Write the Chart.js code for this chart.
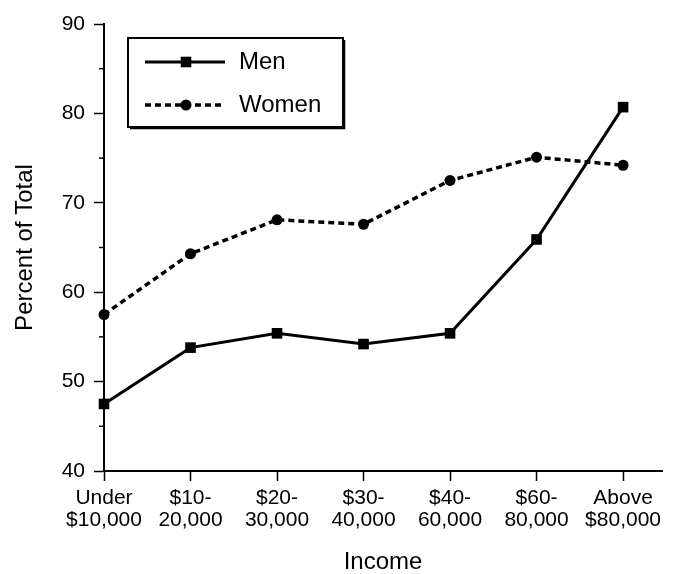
<!DOCTYPE html>
<html>
<head>
<meta charset="utf-8">
<script src="https://cdn.jsdelivr.net/npm/chart.js@4/dist/chart.umd.min.js"></script>
<style>
  html, body { margin: 0; padding: 0; background: #fff; }
</style>
</head>
<body>
<canvas id="chart" width="673" height="574"></canvas>
<script>
const categories = [
  ['Under', '$10,000'], ['$10-', '20,000'], ['$20-', '30,000'], ['$30-', '40,000'],
  ['$40-', '60,000'], ['$60-', '80,000'], ['Above', '$80,000']
];
const menValues = [47.5, 53.8, 55.4, 54.2, 55.4, 65.9, 80.7];
const womenValues = [57.5, 64.3, 68.1, 67.6, 72.5, 75.1, 74.2];
const yMinorTicks = [45, 55, 65, 75, 85];

Chart.defaults.font.family = '"Liberation Sans", Arial, sans-serif';
Chart.defaults.color = '#000';

const toPoints = (vals) => vals.map((v, i) => ({ x: i, y: v }));

// small ticks halfway between the labelled ones
const minorTicks = {
  id: 'minorTicks',
  afterDraw(chart) {
    const { ctx, scales: { y } } = chart;
    ctx.save();
    ctx.strokeStyle = '#000';
    ctx.lineWidth = 1.5;
    yMinorTicks.forEach(v => {
      const py = y.getPixelForValue(v);
      ctx.beginPath();
      ctx.moveTo(y.right - 5, py);
      ctx.lineTo(y.right, py);
      ctx.stroke();
    });
    ctx.restore();
  }
};

// boxed legend inside the plot
const boxLegend = {
  id: 'boxLegend',
  afterDraw(chart) {
    const { ctx, chartArea } = chart;
    const x0 = chartArea.left + 24, y0 = chartArea.top + 14;
    const w = 215, h = 89;
    ctx.save();
    ctx.fillStyle = '#fff';
    ctx.fillRect(x0, y0, w, h);
    ctx.strokeStyle = '#000';
    ctx.lineWidth = 2;
    ctx.strokeRect(x0, y0, w, h);
    ctx.lineWidth = 1.5;
    ctx.beginPath();
    ctx.moveTo(x0 + w + 1.5, y0 + 2);
    ctx.lineTo(x0 + w + 1.5, y0 + h + 1.5);
    ctx.lineTo(x0 + 2, y0 + h + 1.5);
    ctx.stroke();

    chart.data.datasets.forEach((ds, i) => {
      const ly = y0 + 24 + i * 43;
      ctx.strokeStyle = '#000';
      ctx.lineWidth = ds.borderWidth;
      ctx.setLineDash(ds.borderDash || []);
      ctx.beginPath();
      ctx.moveTo(x0 + 17, ly);
      ctx.lineTo(x0 + 97, ly);
      ctx.stroke();
      ctx.setLineDash([]);
      ctx.fillStyle = '#000';
      Chart.helpers.drawPoint(ctx, {
        pointStyle: ds.pointStyle, radius: ds.pointRadius, rotation: 0, borderWidth: 0
      }, x0 + 58, ly);
      ctx.font = '24px "Liberation Sans", Arial, sans-serif';
      ctx.textBaseline = 'middle';
      ctx.fillText(ds.label, x0 + 111, ly);
    });
    ctx.restore();
  }
};

new Chart(document.getElementById('chart'), {
  type: 'line',
  data: {
    datasets: [
      {
        label: 'Men',
        data: toPoints(menValues),
        borderColor: '#000',
        borderWidth: 3,
        pointStyle: 'rect',
        pointRadius: 7.5,
        pointBackgroundColor: '#000',
        pointBorderWidth: 0,
        tension: 0,
        clip: false
      },
      {
        label: 'Women',
        data: toPoints(womenValues),
        borderColor: '#000',
        borderWidth: 3.5,
        borderDash: [6, 4],
        pointStyle: 'circle',
        pointRadius: 5.5,
        pointBackgroundColor: '#000',
        pointBorderWidth: 0,
        tension: 0,
        clip: false
      }
    ]
  },
  options: {
    responsive: false,
    animation: false,
    layout: { padding: { top: 24, right: 11, left: 0, bottom: 0 } },
    plugins: { legend: { display: false }, tooltip: { enabled: false } },
    scales: {
      x: {
        type: 'linear',
        min: 0,
        max: 6.45,
        border: { color: '#000', width: 2 },
        grid: { drawOnChartArea: false, drawTicks: true, tickLength: 10, tickWidth: 1.5, tickColor: '#000' },
        afterBuildTicks(scale) {
          // one tick per income bracket
          scale.ticks = categories.map((c, i) => ({ value: i }));
        },
        afterFit(scale) { scale.height = 103; },
        ticks: {
          stepSize: 1,
          padding: 6,
          maxRotation: 0,
          autoSkip: false,
          font: { size: 21, lineHeight: 1.05 },
          callback: (v) => categories[v] || ''
        },
        title: {
          display: true,
          text: 'Income',
          font: { size: 24, lineHeight: 1 },
          padding: { top: 0, bottom: 0 }
        }
      },
      y: {
        min: 40,
        max: 90,
        border: { color: '#000', width: 2 },
        grid: { drawOnChartArea: false, drawTicks: true, tickLength: 10, tickWidth: 1.5, tickColor: '#000' },
        afterFit(scale) { scale.width = 104; },
        ticks: { stepSize: 10, padding: 9, font: { size: 21 } },
        title: {
          display: true,
          text: 'Percent of Total',
          font: { size: 24, lineHeight: 1 },
          padding: { top: 13, bottom: 0 }
        }
      }
    }
  },
  plugins: [minorTicks, boxLegend]
});
</script>
</body>
</html>
